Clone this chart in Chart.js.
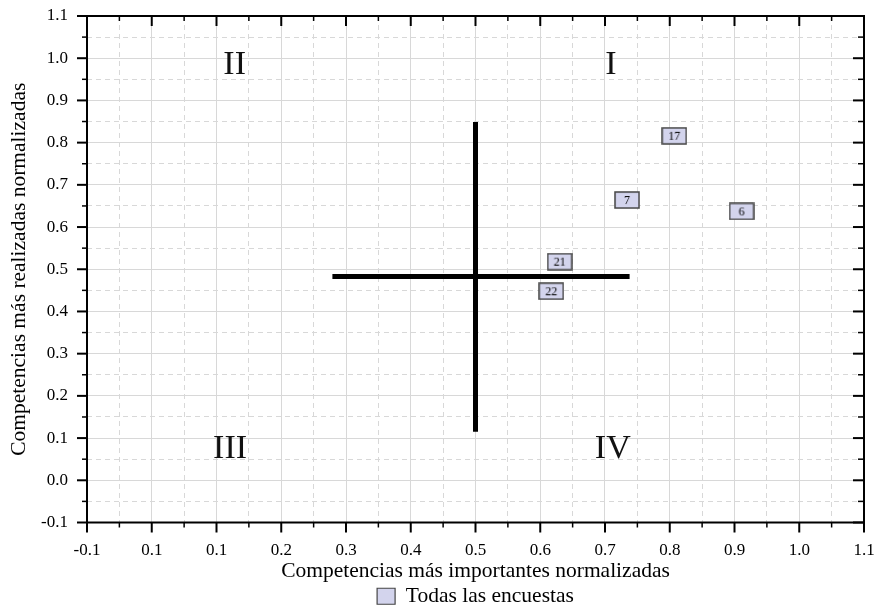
<!DOCTYPE html>
<html>
<head>
<meta charset="utf-8">
<script src="https://cdn.jsdelivr.net/npm/chart.js@4.4.1/dist/chart.umd.min.js"></script>
<style>
    html, body { margin: 0; padding: 0; background: #fff; overflow: hidden; }
    #wrap { position: relative; width: 877px; height: 617px; }
</style>
</head>
<body>
<div id="wrap"><canvas id="quadrant-chart"></canvas></div>
<script>
    // Survey points (competency id, importance, realization)
    const pointLabels = ['17', '7', '6', '21', '22'];
    const importance = [0.807, 0.734, 0.911, 0.630, 0.617];
    const realized = [0.816, 0.664, 0.637, 0.518, 0.448];

    // Crosshair splitting the quadrants
    const crossVerticalX = [0.5, 0.5];
    const crossVerticalY = [0.115, 0.849];
    const crossHorizontalX = [0.279, 0.738];
    const crossHorizontalY = [0.483, 0.483];

    // Axis ticks
    const majorTicks = [-0.1, 0.0, 0.1, 0.2, 0.3, 0.4, 0.5, 0.6, 0.7, 0.8, 0.9, 1.0, 1.1];
    const minorTicks = [-0.05, 0.05, 0.15, 0.25, 0.35, 0.45, 0.55, 0.65, 0.75, 0.85, 0.95, 1.05];
    const xTickLabels = ['-0.1', '0.1', '0.1', '0.2', '0.3', '0.4', '0.5', '0.6', '0.7', '0.8', '0.9', '1.0', '1.1'];
    const yTickLabels = ['-0.1', '0.0', '0.1', '0.2', '0.3', '0.4', '0.5', '0.6', '0.7', '0.8', '0.9', '1.0', '1.1'];

    // Quadrant names, placed in data units
    const quadrantNames = ['II', 'I', 'III', 'IV'];
    const quadrantX = [0.128, 0.709, 0.121, 0.712];
    const quadrantY = [0.983, 0.983, 0.073, 0.073];

    const FONT = 'Liberation Serif';
    const allTicks = majorTicks.concat(minorTicks).sort((a, b) => a - b);

    function majorIndex(v) {
        return majorTicks.findIndex(m => Math.abs(m - v) < 1e-6);
    }

    // Labelled box used as point marker
    function makeMarker(text) {
        const c = document.createElement('canvas');
        c.width = 26;
        c.height = 18;
        const g = c.getContext('2d');
        g.fillStyle = '#d3d4ed';
        g.fillRect(1, 1, 24, 16);
        g.strokeStyle = '#444444';
        g.lineWidth = 1.5;
        g.strokeRect(1, 1, 24, 16);
        g.fillStyle = '#000';
        g.font = '12px "' + FONT + '"';
        g.textAlign = 'center';
        g.textBaseline = 'middle';
        g.fillText(text, 13, 9.5);
        return c;
    }
    const markers = pointLabels.map(makeMarker);

    const surveyPoints = importance.map((x, i) => ({ x: x, y: realized[i] }));
    const verticalLine = crossVerticalX.map((x, i) => ({ x: x, y: crossVerticalY[i] }));
    const horizontalLine = crossHorizontalX.map((x, i) => ({ x: x, y: crossHorizontalY[i] }));

    // Frame with inward/outward tick marks on all four sides
    const framePlugin = {
        id: 'frame',
        afterDatasetsDraw(chart) {
            const { ctx, chartArea: a, scales: { x, y } } = chart;
            ctx.save();
            ctx.strokeStyle = '#000';
            function seg(x1, y1, x2, y2) {
                ctx.beginPath();
                ctx.moveTo(x1, y1);
                ctx.lineTo(x2, y2);
                ctx.stroke();
            }
            allTicks.forEach(v => {
                const big = majorIndex(v) >= 0;
                const len = big ? 10 : 5;
                const px = x.getPixelForValue(v);
                const py = y.getPixelForValue(v);
                ctx.lineWidth = big ? 2 : 1.5;
                seg(px, a.bottom, px, a.bottom + len);
                seg(px, a.top, px, a.top + len);
                seg(a.left, py, a.left - len, py);
                seg(a.right, py, a.right - len - 1, py);
            });
            ctx.lineWidth = 2;
            ctx.strokeRect(a.left, a.top, a.right - a.left, a.bottom - a.top);
            ctx.restore();
        }
    };

    const quadrantPlugin = {
        id: 'quadrants',
        beforeDatasetsDraw(chart) {
            const { ctx, scales: { x, y } } = chart;
            ctx.save();
            ctx.fillStyle = '#111';
            ctx.font = '34px "' + FONT + '"';
            ctx.textAlign = 'center';
            ctx.textBaseline = 'middle';
            quadrantNames.forEach((name, i) => {
                ctx.fillText(name, x.getPixelForValue(quadrantX[i]), y.getPixelForValue(quadrantY[i]));
            });
            ctx.restore();
        }
    };

    function gridDash(ctx) {
        if (!ctx.tick) return [];
        return majorIndex(ctx.tick.value) >= 0 ? [] : [5, 4];
    }

    new Chart(document.getElementById('quadrant-chart'), {
        type: 'scatter',
        data: {
            datasets: [
                {
                    label: 'Todas las encuestas',
                    data: surveyPoints,
                    backgroundColor: '#d3d4ed',
                    borderColor: '#444444',
                    borderWidth: 1.2,
                    pointStyle: ctx => markers[ctx.dataIndex] || 'rect',
                    pointRadius: 6,
                    order: 0
                },
                {
                    label: 'v',
                    data: verticalLine,
                    showLine: true,
                    borderColor: '#000',
                    borderWidth: 5,
                    pointRadius: 0,
                    order: 1
                },
                {
                    label: 'h',
                    data: horizontalLine,
                    showLine: true,
                    borderColor: '#000',
                    borderWidth: 5,
                    pointRadius: 0,
                    order: 1
                }
            ]
        },
        options: {
            responsive: true,
            maintainAspectRatio: false,
            animation: false,
            events: [],
            layout: { padding: { top: 16, right: 13, left: 0, bottom: 0 } },
            plugins: {
                tooltip: { enabled: false },
                legend: {
                    position: 'bottom',
                    fullSize: false,
                    labels: {
                        filter: item => item.datasetIndex === 0,
                        boxWidth: 18,
                        boxHeight: 16,
                        padding: 0,
                        color: '#000',
                        font: { family: FONT, size: 21.5 }
                    }
                }
            },
            scales: {
                x: {
                    type: 'linear',
                    min: -0.1,
                    max: 1.1,
                    afterBuildTicks: s => { s.ticks = allTicks.map(v => ({ value: v })); },
                    afterFit: s => { s.height = 63; s.paddingLeft = 0; s.paddingRight = 0; },
                    ticks: {
                        autoSkip: false,
                        maxRotation: 0,
                        padding: 18,
                        color: '#000',
                        font: { family: FONT, size: 17 },
                        callback: v => { const i = majorIndex(v); return i >= 0 ? xTickLabels[i] : ''; }
                    },
                    grid: { color: '#d8d8d8', lineWidth: 1, drawTicks: false },
                    border: { display: false, dash: gridDash },
                    title: {
                        display: true,
                        text: 'Competencias más importantes normalizadas',
                        color: '#000',
                        font: { family: FONT, size: 21.5 },
                        padding: { top: 0, bottom: 1 }
                    }
                },
                y: {
                    type: 'linear',
                    min: -0.1,
                    max: 1.1,
                    afterBuildTicks: s => { s.ticks = allTicks.map(v => ({ value: v })); },
                    afterFit: s => { s.width = 87; s.paddingTop = 0; s.paddingBottom = 0; },
                    ticks: {
                        autoSkip: false,
                        padding: 19,
                        color: '#000',
                        font: { family: FONT, size: 17 },
                        callback: v => { const i = majorIndex(v); return i >= 0 ? yTickLabels[i] : ''; }
                    },
                    grid: { color: '#d8d8d8', lineWidth: 1, drawTicks: false },
                    border: { display: false, dash: gridDash },
                    title: {
                        display: true,
                        text: 'Competencias más realizadas normalizadas',
                        color: '#000',
                        font: { family: FONT, size: 21.5 },
                        padding: { top: 6, bottom: 0 }
                    }
                }
            }
        },
        plugins: [quadrantPlugin, framePlugin]
    });
</script>
</body>
</html>
